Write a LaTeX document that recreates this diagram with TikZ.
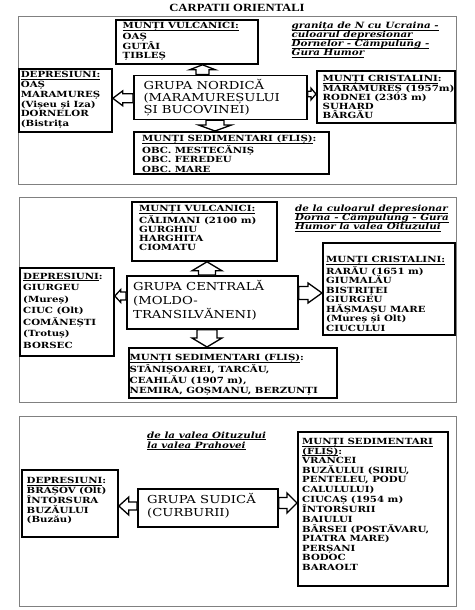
\documentclass[tikz,border=0pt]{standalone}
\usepackage{fontspec}
\usetikzlibrary{calc}
\newfontfamily\bxf[FakeStretch=1.2]{DejaVu Serif}
\newfontfamily\ttlf[FakeStretch=1.15]{Liberation Serif}
\newcommand\ul[1]{\underline{\smash{#1}}}
% block arrow: start, tip, shaft half width, head half width, head length (pt)
\newcommand\barrow[5]{%
 \draw[arr] let \p1=(#1), \p2=(#2), \n1={veclen(\x2-\x1,\y2-\y1)},
   \n2={(\x2-\x1)/\n1}, \n3={(\y2-\y1)/\n1} in
  ({\x1-\n3*#3},{\y1+\n2*#3})
  -- ({\x2-\n2*#5-\n3*#3},{\y2-\n3*#5+\n2*#3})
  -- ({\x2-\n2*#5-\n3*#4},{\y2-\n3*#5+\n2*#4})
  -- (\x2,\y2)
  -- ({\x2-\n2*#5+\n3*#4},{\y2-\n3*#5-\n2*#4})
  -- ({\x2-\n2*#5+\n3*#3},{\y2-\n3*#5-\n2*#3})
  -- ({\x1+\n3*#3},{\y1-\n2*#3}) -- cycle;}
\tikzset{
 frame/.style={draw=black!50, line width=0.9pt},
 boxst/.style={draw, line width=1.8pt, anchor=north west, inner sep=0pt},
 txt/.style={anchor=north west, inner sep=0pt, align=left,
   font=\bxf\bfseries\fontsize{8.5}{#1}\selectfont},
 txt/.default=9.5,
 grp/.style={anchor=north west, inner sep=0pt, align=left,
   font=\bxf\fontsize{11}{#1}\selectfont},
 grp/.default=13,
 note/.style={anchor=north west, inner sep=0pt, align=left,
   font=\bxf\bfseries\itshape\fontsize{8.6}{#1}\selectfont},
 note/.default=9,
 arr/.style={draw, line width=1.3pt, fill=white, line join=miter},
}
\begin{document}
\begin{tikzpicture}[x=1pt,y=-1pt]
\useasboundingbox (0,0) rectangle (474,610);
\fill[white] (0,0) rectangle (474,610);
\node[font=\ttlf\bfseries\fontsize{11}{13}\selectfont] (title) at (237,7.5) {CARPATII ORIENTALI};

% ---------------- panel 1
\draw[frame] (18,16) rectangle (456,184);
\node[boxst, minimum width=142pt, minimum height=44pt] (v1) at (115,19) {};
\node[boxst, minimum width=93pt, minimum height=63pt] (d1) at (18,68) {};
\node[boxst, minimum width=173pt, minimum height=44pt] (g1) at (133,74.5) {};
\node[boxst, minimum width=138pt, minimum height=52pt] (c1) at (316,70) {};
\node[boxst, minimum width=195pt, minimum height=42pt] (s1) at (133,131) {};
\node[txt=9] (tv1) at (122.5,22.5) {\strut\ul{MUNȚI VULCANICI:}\\OAȘ\\GUTÂI\\ȚIBLEȘ};
\node[note=9] (n1) at (291.5,22.5) {\strut\ul{granița de N cu Ucraina -}\\\ul{culoarul depresionar}\\\ul{Dornelor - Câmpulung -}\\\ul{Gura Humor}};
\node[txt=9.7] (td1) at (20.7,71) {\strut\ul{DEPRESIUNI:}\\OAȘ\\MARAMUREȘ\\(Vișeu și Iza)\\DORNELOR\\(Bistrița};
\node[grp=12.2] (tg1) at (143.3,79) {\strut GRUPA NORDICĂ\\(MARAMUREȘULUI\\ȘI BUCOVINEI)};
\node[txt=9] (tc1) at (322.5,75) {\strut\ul{MUNȚI CRISTALINI}:\\MARAMUREȘ (1957m)\\RODNEI (2303 m)\\SUHARD\\BÂRGĂU};
\node[txt=9.4] (ts1) at (142,135) {\strut\ul{MUNȚI SEDIMENTARI (FLIȘ)}:\\OBC. MESTECĂNIȘ\\OBC. FEREDEU\\OBC. MARE};
\coordinate (a1u) at (202.5,0);
\coordinate (a1d) at (215,0);
\coordinate (a1l) at (0,98.3);
\coordinate (a1r) at (0,94);
\barrow{g1.north -| a1u}{v1.south -| a1u}{6.5}{13}{5}
\barrow{g1.south -| a1d}{s1.north -| a1d}{9}{16.5}{6}
\barrow{g1.west |- a1l}{d1.east |- a1l}{4.5}{7.5}{10}
\barrow{g1.east |- a1r}{c1.west |- a1r}{2.7}{5.8}{5}

% ---------------- panel 2
\draw[frame] (19,197) rectangle (456,402);
\node[boxst, minimum width=145pt, minimum height=59pt] (v2) at (131,201) {};
\node[boxst, minimum width=132pt, minimum height=92pt] (c2) at (322,242) {};
\node[boxst, minimum width=94pt, minimum height=88pt] (d2) at (19,267) {};
\node[boxst, minimum width=171pt, minimum height=53pt] (g2) at (126,275) {};
\node[boxst, minimum width=208pt, minimum height=50pt] (s2) at (128,347) {};
\node[txt=9.2] (tv2) at (139,205) {\strut\ul{MUNȚI VULCANICI:}\\CĂLIMANI (2100 m)\\GURGHIU\\HARGHITA\\CIOMATU};
\node[note=9] (n2) at (295,205) {\strut\ul{de la culoarul depresionar}\\\ul{Dorna - Câmpulung - Gura}\\\ul{Humor la valea Oituzului}};
\node[txt=9.5] (tc2) at (326,255.5) {\strut\ul{MUNȚI CRISTALINI:}\\RARĂU (1651 m)\\GIUMALĂU\\BISTRIȚEI\\GIURGEU\\HĂȘMAȘU MARE\\(Mureș și Olt)\\CIUCULUI};
\node[txt=11.5] (td2) at (23,271) {\strut\ul{DEPRESIUNI}:\\GIURGEU\\(Mureș)\\CIUC (Olt)\\COMĂNEȘTI\\(Trotuș)\\BORSEC};
\node[grp=14.3] (tg2) at (133,280) {\strut GRUPA CENTRALĂ\\(MOLDO-\\TRANSILVĂNENI)};
\node[txt=10.5] (ts2) at (129.5,353) {\strut\ul{MUNȚI SEDIMENTARI (FLIȘ)}:\\STÂNIȘOAREI, TARCĂU,\\CEAHLĂU (1907 m),\\NEMIRA, GOȘMANU, BERZUNȚI};
\coordinate (a2v) at (207,0);
\coordinate (a2l) at (0,296);
\coordinate (a2r) at (0,293);
\barrow{g2.north -| a2v}{v2.south -| a2v}{8.5}{15}{9}
\barrow{g2.south -| a2v}{s2.north -| a2v}{10}{15}{9}
\barrow{g2.west |- a2l}{d2.east |- a2l}{4}{6.5}{6}
\barrow{g2.east |- a2r}{c2.west |- a2r}{6.5}{10}{14}

% ---------------- panel 3
\draw[frame] (19,416) rectangle (456,606);
\node[boxst, minimum width=96pt, minimum height=67pt] (d3) at (21,469) {};
\node[boxst, minimum width=140pt, minimum height=38pt] (g3) at (137,488) {};
\node[boxst, minimum width=150pt, minimum height=154pt] (s3) at (297,431) {};
\node[note=10] (n3) at (147,431) {\strut\ul{de la valea Oituzului}\\\ul{la valea Prahovei}};
\node[txt=9.3] (td3) at (26.5,477) {\strut\ul{DEPRESIUNI}:\\BRAȘOV (Olt)\\ÎNTORSURA\\BUZĂULUI\\(Buzău)};
\node[grp=13.3] (tg3) at (147,493) {\strut GRUPA SUDICĂ\\(CURBURII)};
\node[txt=9.6] (ts3) at (302,437.5) {\strut\ul{MUNȚI SEDIMENTARI}\\\ul{(FLIȘ)}:\\VRANCEI\\BUZĂULUI (SIRIU,\\PENTELEU, PODU\\CALULULUI)\\CIUCAȘ (1954 m)\\ÎNTORSURII\\BAIULUI\\BÂRSEI (POSTĂVARU,\\PIATRA MARE)\\PERȘANI\\BODOC\\BARAOLT};
\coordinate (a3l) at (0,506);
\coordinate (a3r) at (0,503);
\barrow{g3.west |- a3l}{d3.east |- a3l}{4}{9}{10}
\barrow{g3.east |- a3r}{s3.west |- a3r}{5.5}{10}{10}
\end{tikzpicture}
\end{document}
